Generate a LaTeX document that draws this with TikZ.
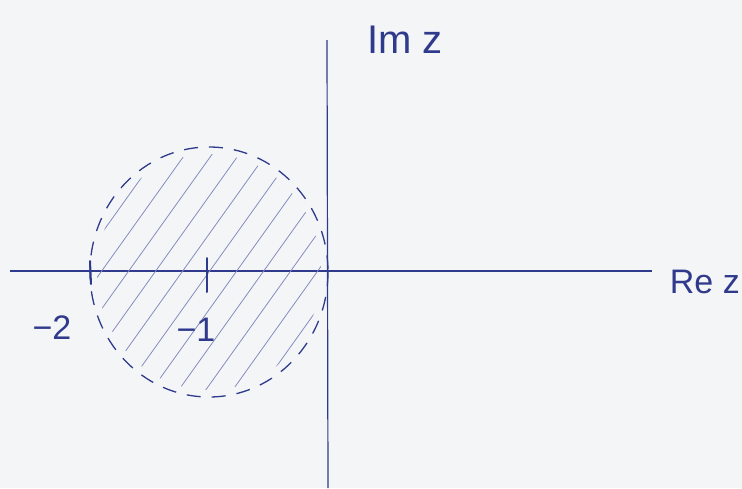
\documentclass[tikz,border=0pt]{standalone}
\usepackage{fontspec}
\setmainfont{Liberation Sans}
\usetikzlibrary{calc}
\definecolor{inkblue}{RGB}{48,58,140}
\definecolor{hatchblue}{RGB}{130,140,190}
\definecolor{paper}{RGB}{244,245,247}
\begin{document}
\begin{tikzpicture}[x=1pt,y=-1pt,
  axisline/.style={draw=inkblue,line width=1.2pt},
  tickline/.style={draw=inkblue,line width=2pt,line cap=round},
  hatchline/.style={draw=hatchblue,line width=0.8pt},
  circleline/.style={draw=inkblue,line width=1.3pt,dash pattern=on 14pt off 11pt},
  biglabel/.style={text=inkblue,font=\fontsize{40}{44}\selectfont,inner sep=0pt},
  numlabel/.style={text=inkblue,font=\fontsize{34}{38}\selectfont,inner sep=0pt}]
\useasboundingbox[fill=paper] (0,0) rectangle (742,488);
% axes
\coordinate (xl) at (10,271);
\coordinate (xr) at (652,271);
\coordinate (yt) at (327,40);
\coordinate (yb) at (328,488);
\draw[axisline] (xl) -- (xr);
\draw[axisline] (yb) -- (yt);
% hatched disk
\coordinate (c) at (209,272);
\begin{scope}
  \clip (c) ellipse [x radius=112, y radius=118];
  \foreach \k in {-6,...,6}
    \draw[hatchline] ($(c)+(\k*27-130,182)$) -- ++(260,-364);
\end{scope}
\draw[circleline] (c) ellipse [x radius=119, y radius=125];
% ticks
\coordinate (t2a) at (90,261); \coordinate (t2b) at (91,284);
\coordinate (t1a) at (207,258); \coordinate (t1b) at (207,292);
\draw[tickline] (t2a) -- (t2b);
\draw[tickline] (t1a) -- (t1b);
% labels
\node[biglabel] (im) at (405,40) {Im z};
\node[biglabel,font=\fontsize{34}{38}\selectfont,anchor=east] (re) at (740,282) {Re z};
\node[numlabel] (m2) at (52,328) {−2};
\node[numlabel] (m1) at (196,330) {−1};
\end{tikzpicture}
\end{document}
